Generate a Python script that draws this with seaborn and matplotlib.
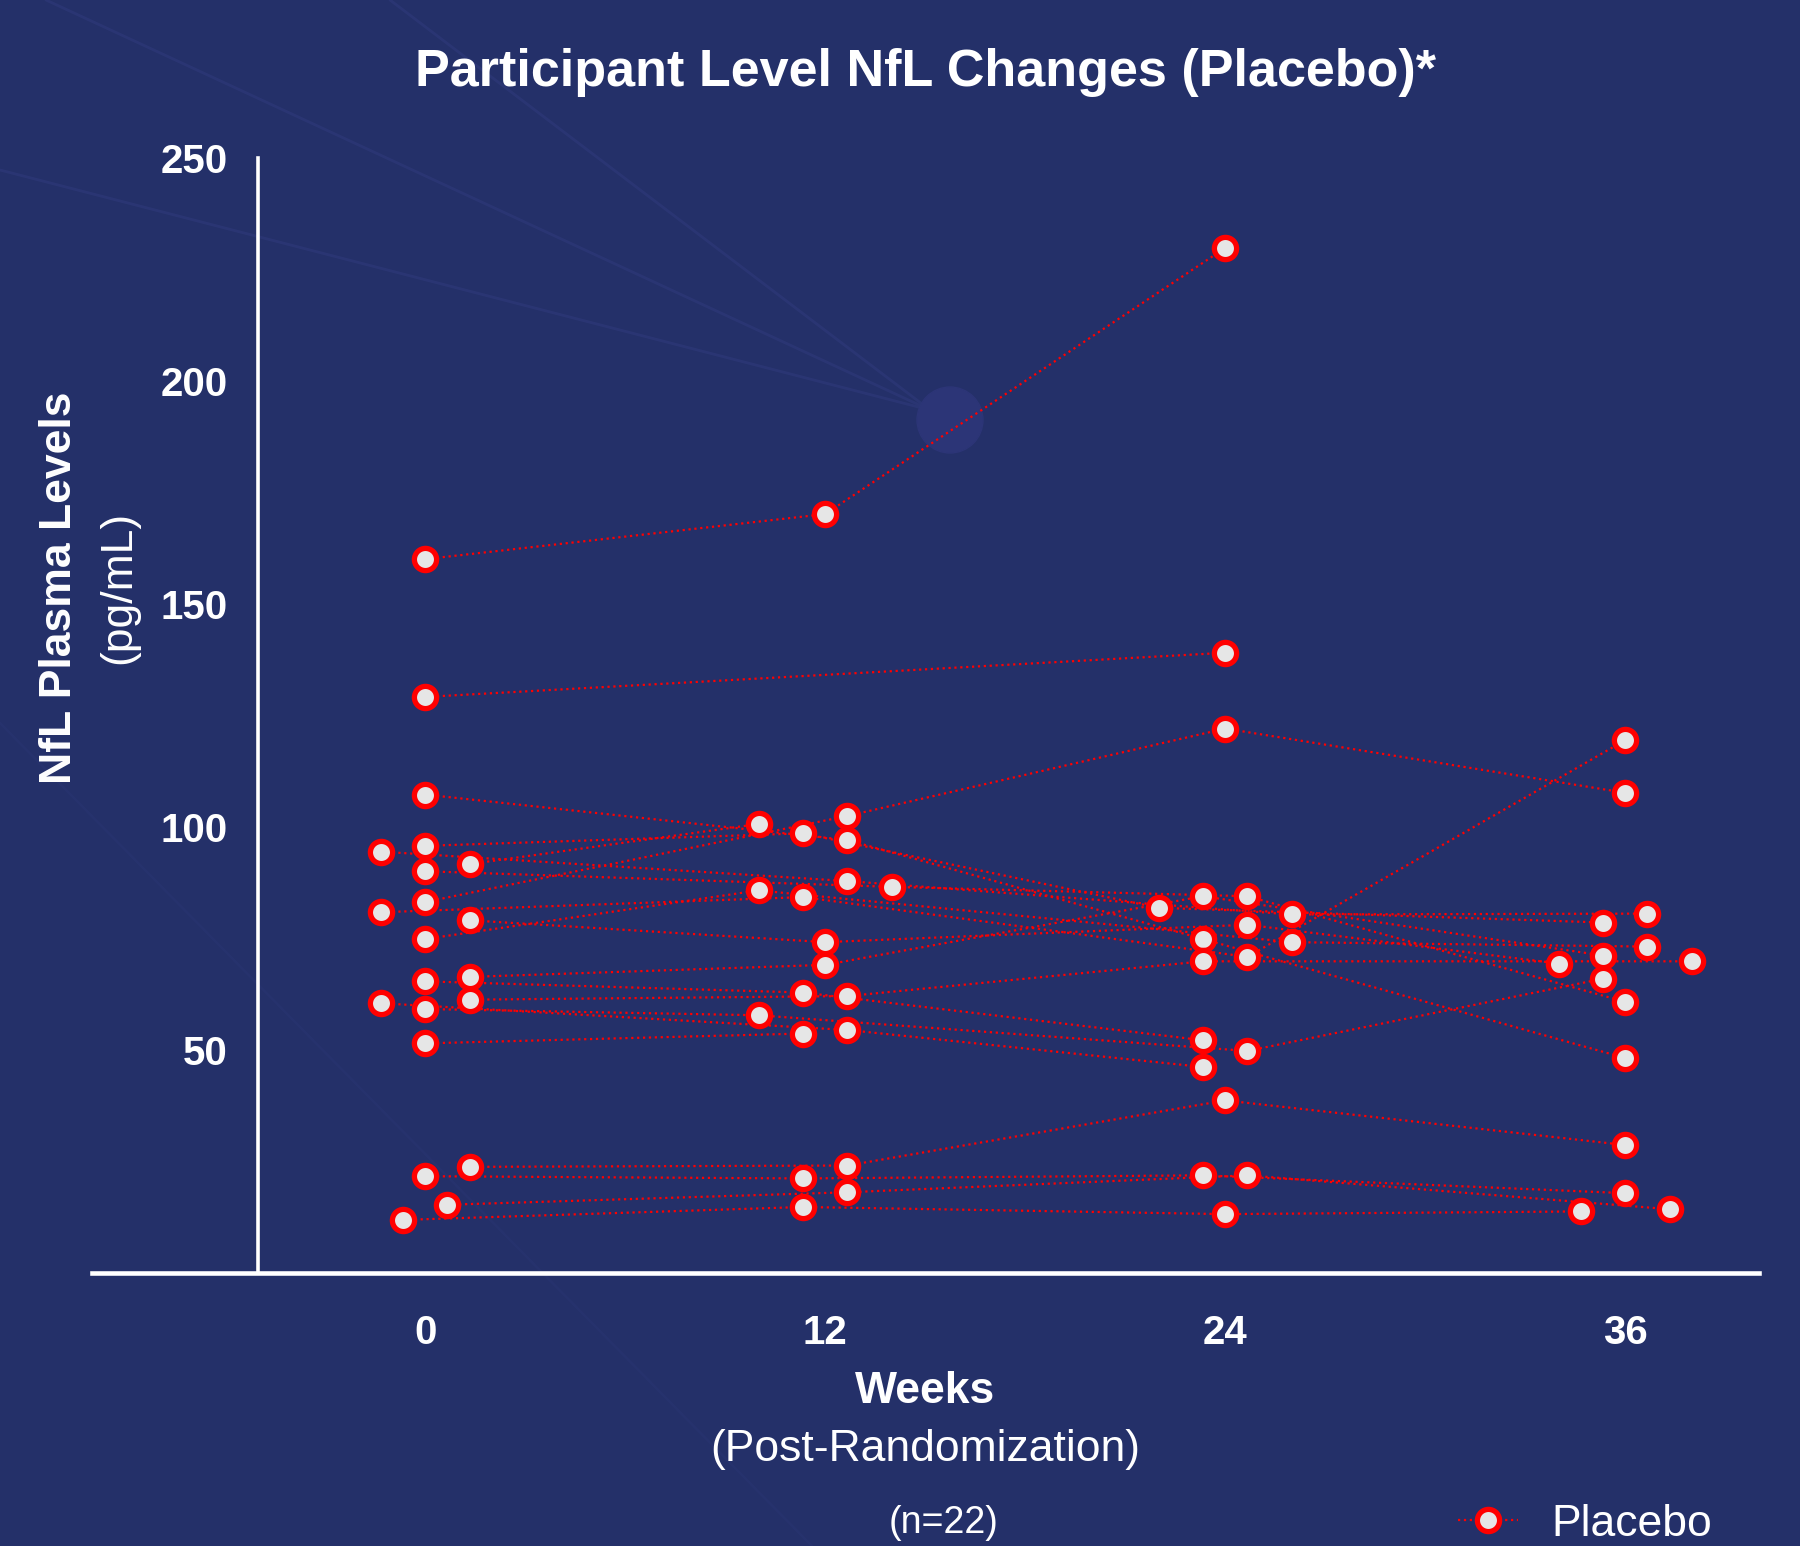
import numpy as np
import pandas as pd
import matplotlib
matplotlib.use('Agg')
import matplotlib.pyplot as plt
import seaborn as sns
from matplotlib.lines import Line2D
from matplotlib.patches import Ellipse

nan = np.nan

# --- data (one entry per participant) ---
weeks = [0, 12, 24, 36]
week_labels = ['0', '12', '24', '36']
participants = [f'P{i + 1:02d}' for i in range(21)]

nfl_w0 = [160.1, 129.2, 107.3, 94.5, 95.8, 91.7, 90.1, 80.9, 83.2, 79.1, 74.9,
          65.4, 66.4, 60.5, 59.2, 61.3, 51.5, 21.7, 23.8, 15.3, 11.9]
nfl_w12 = [170.2, nan, 97.1, 87.9, 98.6, 100.7, 86.6, 84.3, 102.5, 74.2, 85.8,
           62.9, 69.1, 54.5, 57.8, 62.1, 53.7, 21.2, 24.1, 18.1, 14.8]
nfl_w24 = [229.9, 139.1, 74.9, 80.4, 81.9, nan, 84.5, 70.9, 122.1, 78.1, 74.2,
           52.2, 84.5, 46.2, 49.8, 69.9, nan, 21.9, 38.7, 21.9, 13.2]
nfl_w36 = [nan, nan, 48.2, 80.6, 78.6, nan, 60.8, 119.5, 107.7, 69.4, 73.2,
           nan, 71.2, nan, 66.0, 69.9, nan, 17.9, 28.7, 14.3, 13.8]

# horizontal jitter slot of each point (1 slot = 2/3 of a week)
slot_w0 = [0, 0, 0, -2, 0, 2, 0, -2, 0, 2, 0, 0, 2, -2, 0, 2, 0, 0, 2, 1, -1]
slot_w12 = [0, 0, 1, 1, -1, -3, 3, -1, 1, 0, -3, -1, 0, 1, -3, 1, -1, -1, 1, 1, -1]
slot_w24 = [0, 0, -1, 3, -3, 0, 1, 1, 0, 1, 3, -1, -1, -1, 1, -1, 0, -1, 0, 1, 0]
slot_w36 = [0, 0, 0, 1, -1, 0, 0, 0, 0, -3, 1, 0, -1, 0, -1, 3, 0, 0, 0, 2, -2]

# --- build long table ---
frames = []
for wk, vals, slots in zip(weeks, [nfl_w0, nfl_w12, nfl_w24, nfl_w36],
                           [slot_w0, slot_w12, slot_w24, slot_w36]):
    frames.append(pd.DataFrame({'pid': participants, 'week': wk,
                                'slot': slots, 'nfl': vals}))
df = pd.concat(frames, ignore_index=True)
df['x'] = df['week'] + df['slot'] * 2.0 / 3.0
df = df.dropna(subset=['nfl']).sort_values(['pid', 'week']).reset_index(drop=True)

BG = '#243069'
RED = '#ff0000'
FILL = '#e6e6e6'

sns.set_theme(style='white')
plt.rcParams['font.family'] = ['Liberation Sans', 'DejaVu Sans']

fig = plt.figure(figsize=(18, 15.46), dpi=100, facecolor=BG)

# faint background decoration
deco = '#2c3776'
for (x0, y0) in [(0, 170), (46, 0), (390, 0)]:
    fig.add_artist(Line2D([x0 / 1800, 930 / 1800], [1 - y0 / 1546, 1 - 410 / 1546],
                          transform=fig.transFigure, color=deco, lw=2.0, alpha=0.8, zorder=0))
fig.add_artist(Line2D([0, 812 / 1800], [1 - 723 / 1546, 0], transform=fig.transFigure,
                      color='#2a3573', lw=1.8, alpha=0.45, zorder=0))
fig.add_artist(Ellipse((950 / 1800, 1 - 420 / 1546), 66 / 1800, 66 / 1546,
                       transform=fig.transFigure, color='#2c3577', zorder=0))

ax = fig.add_axes([0.051, 0.1766, 0.926, 0.721])
ax.set_facecolor('none')

sns.lineplot(data=df, x='x', y='nfl', units='pid', estimator=None, sort=False,
             color=RED, lw=1.6, linestyle=':', legend=False, ax=ax, zorder=2)
sns.scatterplot(data=df, x='x', y='nfl', s=256, color=FILL, edgecolor=RED,
                linewidth=3.8, legend=False, ax=ax, zorder=3, clip_on=False)

ax.set_xlim(-10, 40)
ax.set_ylim(0, 250)
ax.set_xticks(weeks)
ax.set_xticklabels(week_labels)
ax.set_yticks([50, 100, 150, 200, 250])
ax.set_xlabel('')
ax.set_ylabel('')

for s in ['top', 'right']:
    ax.spines[s].set_visible(False)
ax.spines['left'].set_position(('data', -5))
ax.spines['left'].set_bounds(0, 250)
ax.spines['left'].set_color('white')
ax.spines['left'].set_linewidth(2.6)
ax.spines['bottom'].set_color('white')
ax.spines['bottom'].set_linewidth(3.3)

ax.tick_params(axis='x', direction='out', length=14.4, width=2.5, color='white',
               pad=15, labelsize=29, labelcolor='white')
ax.tick_params(axis='y', direction='out', length=14, width=2.5, color='white',
               pad=8, labelsize=29, labelcolor='white')
for lab in ax.get_xticklabels() + ax.get_yticklabels():
    lab.set_fontweight('bold')

# titles and labels
fig.text(0.514, 0.953, 'Participant Level NfL Changes (Placebo)*', ha='center', va='center',
         fontsize=37.5, fontweight='bold', color='white')
fig.text(0.033, 0.620, 'NfL Plasma Levels', rotation=90, ha='center', va='center',
         fontsize=32, fontweight='bold', color='white')
fig.text(0.066, 0.620, '(pg/mL)', rotation=90, ha='center', va='center',
         fontsize=32, color='white')
fig.text(0.514, 0.100, 'Weeks', ha='center', va='center', fontsize=32,
         fontweight='bold', color='white')
fig.text(0.514, 0.0627, '(Post-Randomization)', ha='center', va='center',
         fontsize=32, color='white')
fig.text(0.524, 0.015, '(n=22)', ha='center', va='center', fontsize=27, color='white')

handle = Line2D([0], [0], color=RED, linestyle=':', lw=1.6, marker='o', markersize=16,
                markerfacecolor=FILL, markeredgecolor=RED, markeredgewidth=3.8,
                label='Placebo')
fig.legend(handles=[handle], loc='center left', bbox_to_anchor=(0.81, 0.014),
           frameon=False, fontsize=32, labelcolor='white', handlelength=1.35,
           handletextpad=0.75, borderpad=0, borderaxespad=0)

fig.savefig('out.png', dpi=100, facecolor=BG)
